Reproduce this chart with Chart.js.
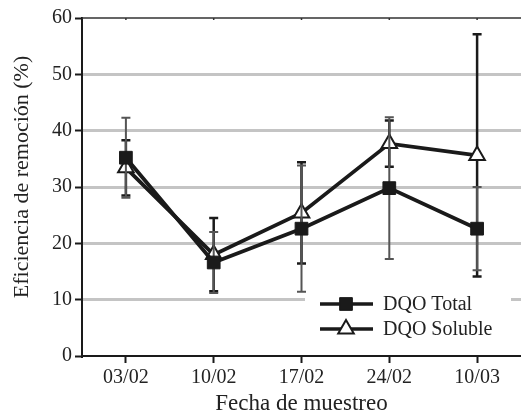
<!DOCTYPE html>
<html>
<head>
<meta charset="utf-8">
<script src="https://cdn.jsdelivr.net/npm/chart.js@4.4.1/dist/chart.umd.min.js"></script>
<style>
  body { margin: 0; background: #fff; }
  #chart { display: block; }
</style>
</head>
<body>
<canvas id="chart" width="521" height="418"></canvas>
<script>
const fechas = ["03/02", "10/02", "17/02", "24/02", "10/03"];
const dqoTotal = [35.2, 16.6, 22.6, 29.8, 22.6];
const errTotal = [7.1, 5.4, 11.2, 12.6, 7.4];
const dqoSoluble = [33.4, 18.0, 25.4, 37.7, 35.6];
const errSoluble = [4.9, 6.5, 9.0, 4.1, 21.5];

const serif = "'Liberation Serif', 'Times New Roman', serif";
const ink = "#1a1a1a";

// error bars go under the markers of their own series
const errorBars = {
  id: "errorBars",
  beforeDatasetDraw(chart, args) {
    const errs = [errTotal, errSoluble][args.index];
    const vals = [dqoTotal, dqoSoluble][args.index];
    const y = chart.scales.y;
    const ctx = chart.ctx;
    const meta = chart.getDatasetMeta(args.index);
    ctx.save();
    ctx.strokeStyle = args.index === 0 ? "#555" : ink;
    ctx.lineWidth = args.index === 0 ? 2 : 2.5;
    meta.data.forEach((pt, j) => {
      const top = y.getPixelForValue(vals[j] + errs[j]);
      const bot = y.getPixelForValue(vals[j] - errs[j]);
      ctx.beginPath();
      ctx.moveTo(pt.x, top);
      ctx.lineTo(pt.x, bot);
      ctx.moveTo(pt.x - 4.5, top);
      ctx.lineTo(pt.x + 4.5, top);
      ctx.moveTo(pt.x - 4.5, bot);
      ctx.lineTo(pt.x + 4.5, bot);
      ctx.stroke();
    });
    ctx.restore();
  }
};

function legendMarker(ctx, ds, x, y) {
  ctx.save();
  ctx.fillStyle = ds.pointBackgroundColor;
  ctx.strokeStyle = ds.pointBorderColor;
  ctx.lineWidth = ds.pointBorderWidth;
  Chart.helpers.drawPoint(ctx, {
    pointStyle: ds.pointStyle,
    radius: ds.pointRadius,
    borderWidth: ds.pointBorderWidth,
    rotation: 0
  }, x, y);
  ctx.restore();
}

const frameAndLegend = {
  id: "frameAndLegend",
  beforeDatasetsDraw(chart) {
    const { ctx, chartArea } = chart;
    ctx.save();
    // top border with small ticks
    ctx.strokeStyle = "#333";
    ctx.lineWidth = 1.5;
    ctx.beginPath();
    ctx.moveTo(chartArea.left, chartArea.top);
    ctx.lineTo(chartArea.right, chartArea.top);
    chart.scales.x.ticks.forEach((t, i) => {
      const px = chart.scales.x.getPixelForTick(i);
      ctx.moveTo(px, chartArea.top);
      ctx.lineTo(px, chartArea.top + 2);
    });
    ctx.stroke();
    // legend background
    ctx.fillStyle = "#fff";
    ctx.fillRect(305, 294, 206, 48);
    ctx.restore();
  },
  afterDraw(chart) {
    const ctx = chart.ctx;
    const rows = [
      { label: "DQO Total", y: 304, ds: chart.data.datasets[0] },
      { label: "DQO Soluble", y: 329, ds: chart.data.datasets[1] }
    ];
    rows.forEach(r => {
      ctx.save();
      ctx.strokeStyle = ink;
      ctx.lineWidth = 3.5;
      ctx.beginPath();
      ctx.moveTo(320, r.y);
      ctx.lineTo(373, r.y);
      ctx.stroke();
      ctx.restore();
      legendMarker(ctx, r.ds, 346, r.y);
      ctx.save();
      ctx.fillStyle = "#222";
      ctx.font = "20px " + serif;
      ctx.textBaseline = "middle";
      ctx.fillText(r.label, 383, r.y + 1);
      ctx.restore();
    });
    // y axis title
    ctx.save();
    ctx.translate(22, 177);
    ctx.rotate(-Math.PI / 2);
    ctx.fillStyle = "#222";
    ctx.font = "22px " + serif;
    ctx.textAlign = "center";
    ctx.textBaseline = "middle";
    ctx.fillText("Eficiencia de remoción (%)", 0, 0);
    ctx.restore();
  }
};

function draw() {
  new Chart(document.getElementById("chart"), {
    type: "line",
    data: {
      labels: fechas,
      datasets: [
        {
          label: "DQO Total",
          data: dqoTotal,
          borderColor: ink,
          borderWidth: 3.8,
          pointStyle: "rect",
          pointRadius: 9,
          pointBackgroundColor: ink,
          pointBorderColor: ink,
          pointBorderWidth: 1,
          tension: 0
        },
        {
          label: "DQO Soluble",
          data: dqoSoluble,
          borderColor: ink,
          borderWidth: 3.8,
          pointStyle: "triangle",
          pointRadius: 9,
          pointBackgroundColor: "#fff",
          pointBorderColor: ink,
          pointBorderWidth: 2,
          tension: 0
        }
      ]
    },
    options: {
      responsive: false,
      animation: false,
      devicePixelRatio: 1,
      layout: { autoPadding: false, padding: { top: 18, right: 0, left: 0, bottom: 0 } },
      plugins: {
        legend: { display: false },
        tooltip: { enabled: false }
      },
      scales: {
        x: {
          offset: true,
          grid: {
            drawOnChartArea: false,
            drawTicks: true,
            tickLength: 7,
            tickColor: ink,
            tickWidth: 2,
            offset: false
          },
          border: { color: ink, width: 2 },
          ticks: {
            color: "#222",
            padding: 3,
            font: { family: serif, size: 20 }
          },
          title: {
            display: true,
            text: "Fecha de muestreo",
            color: "#222",
            font: { family: serif, size: 23 },
            padding: { top: 13, bottom: 0 }
          },
          afterFit(scale) {
            scale.height = 62;
            scale.paddingLeft = 0;
            scale.paddingRight = 0;
          }
        },
        y: {
          min: 0,
          max: 60,
          ticks: {
            stepSize: 10,
            color: "#222",
            padding: 3,
            font: { family: serif, size: 20 }
          },
          grid: {
            color: c => (c.tick.value === 0 || c.tick.value === 60) ? "rgba(0,0,0,0)" : "#c4c4c4",
            lineWidth: 3,
            tickColor: ink,
            tickWidth: 2,
            tickLength: 7
          },
          border: { color: ink, width: 2 },
          afterFit(scale) { scale.width = 82; }
        }
      }
    },
    plugins: [errorBars, frameAndLegend]
  });
}

document.fonts.load("20px 'Liberation Serif'").then(draw, draw);
</script>
</body>
</html>
